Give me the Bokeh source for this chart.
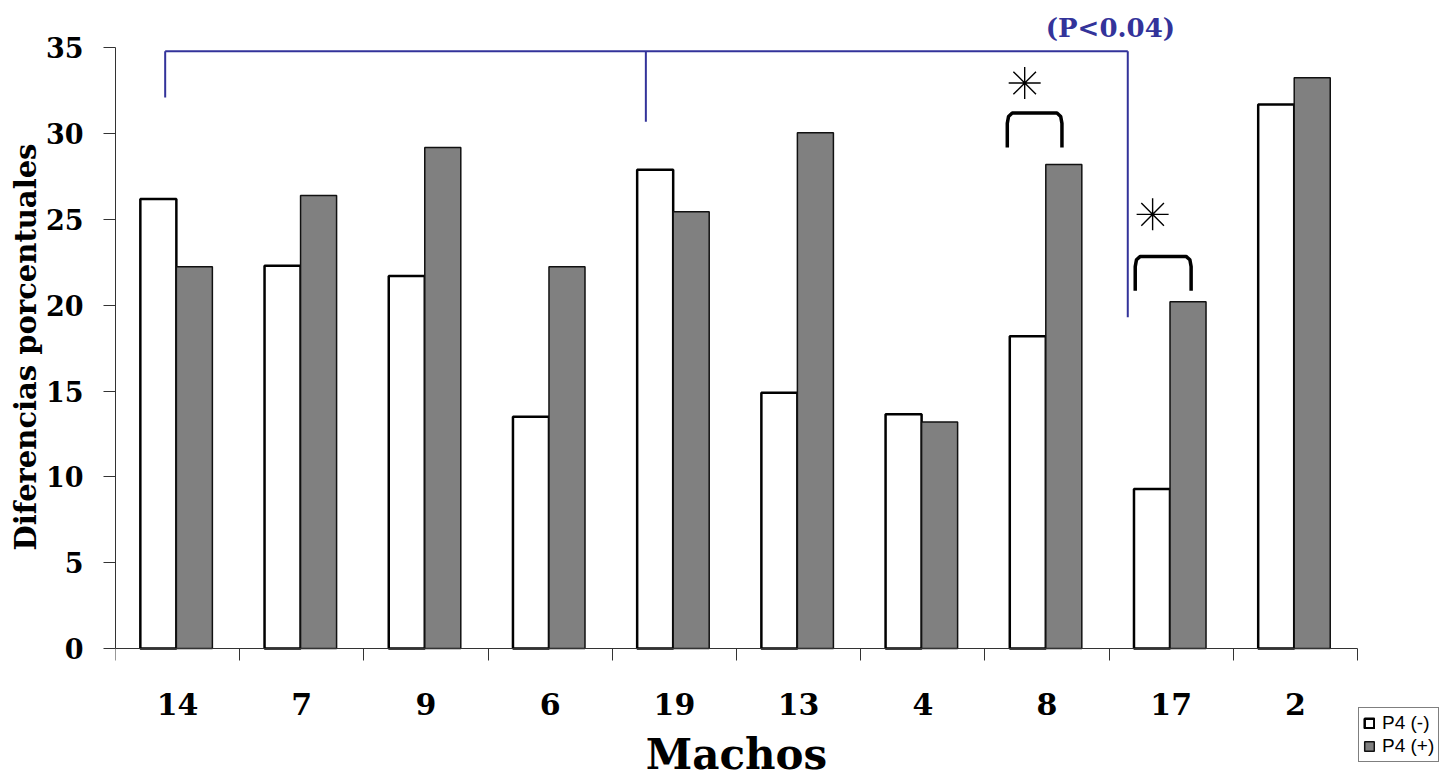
import numpy as np
from bokeh.plotting import figure
from bokeh.models import (ColumnDataSource, FixedTicker, Legend, LegendItem,
                          Range1d, Title)
from bokeh.core.properties import value
from bokeh.embed import file_html
from bokeh.resources import INLINE

# ---------------- data ----------------
machos = ["14", "7", "9", "6", "19", "13", "4", "8", "17", "2"]
p4_neg = [26.2, 22.3, 21.7, 13.5, 27.9, 14.9, 13.65, 18.2, 9.3, 31.7]
p4_pos = [22.25, 26.4, 29.2, 22.25, 25.45, 30.05, 13.2, 28.2, 20.2, 33.25]
y_ticks = [0, 5, 10, 15, 20, 25, 30, 35]

# significance group bracket (blue)
group_x = [0.40, 4.27, 8.15]
group_bottom = [32.1, 30.7, 19.3]
group_top = 34.8
group_text = "(P<0.04)"

# pairwise brackets (black) with asterisks
pair_left = [7.18, 8.21]
pair_right = [7.62, 8.66]
pair_bottom = [29.2, 20.85]
pair_top = [31.2, 22.85]
star_x = [7.32, 8.35]
star_y = [32.95, 25.3]

SERIF = "DejaVu Serif"
BLUE = "#33339A"

n = len(machos)
idx = np.arange(n)
src = ColumnDataSource(dict(
    xneg=idx + 0.345, xpos=idx + 0.635, neg=p4_neg, pos=p4_pos))

# frame spans to the right/bottom edges; the x axis sits at y = 0
p = figure(width=1444, height=777, output_backend="svg", toolbar_location=None,
           x_range=Range1d(0, 10.70), y_range=Range1d(-7.51, 37.0),
           min_border_left=115, min_border_right=0, min_border_top=13,
           min_border_bottom=0)
p.grid.visible = False
p.outline_line_color = None
p.background_fill_color = "white"
p.border_fill_color = "white"

r_neg = p.vbar(x="xneg", top="neg", width=0.29, bottom=0, source=src,
               fill_color="white", line_color="black", line_width=2.5)
r_pos = p.vbar(x="xpos", top="pos", width=0.29, bottom=0, source=src,
               fill_color="#808080", line_color="#111111", line_width=1.5)

# blue group bracket
p.segment(x0=[group_x[0]], y0=[group_top], x1=[group_x[-1]], y1=[group_top],
          line_color=BLUE, line_width=2)
p.segment(x0=group_x, y0=group_bottom, x1=group_x, y1=[group_top] * 3,
          line_color=BLUE, line_width=2)
p.text(x=[8.01], y=[36.17], text=[group_text], text_font=value(SERIF),
       text_font_style="bold", text_font_size="26px", text_color=BLUE,
       text_align="center", text_baseline="middle")

# black pair brackets
xs, ys = [], []
for l, r, b, t in zip(pair_left, pair_right, pair_bottom, pair_top):
    dx = 0.04 * (r - l) / 0.44
    xs.append([l, l, l + 0.01, l + dx, r - dx, r - 0.01, r, r])
    ys.append([b, t - 0.6, t - 0.2, t, t, t - 0.2, t - 0.6, b])
p.multi_line(xs=xs, ys=ys, line_color="black", line_width=3.5,
             line_join="round")
p.scatter(x=star_x, y=star_y, marker="asterisk", size=32,
          line_color="black", line_width=1.4)

# axes
yax = p.yaxis[0]
yax.ticker = FixedTicker(ticks=y_ticks, minor_ticks=[])
yax.bounds = (0, 35)
yax.major_tick_out = 12
yax.major_tick_in = 0
yax.minor_tick_out = 0
yax.axis_line_color = "#333333"
yax.major_tick_line_color = "#333333"
yax.major_label_text_font = SERIF
yax.major_label_text_font_style = "bold"
yax.major_label_text_font_size = "27px"
yax.major_label_text_color = "black"
yax.major_label_standoff = 20

# y-axis title, placed along the 0..35 span of the axis
p.add_layout(Title(text="Diferencias porcentuales", align="left", offset=227,
                   text_font=SERIF, text_font_style="bold",
                   text_font_size="29px", text_color="black", standoff=0),
             "left")

xax = p.xaxis[0]
xax.fixed_location = 0
xax.bounds = (0, 10)
xax.ticker = FixedTicker(ticks=list(idx + 0.5), minor_ticks=list(range(n + 1)))
xax.major_label_overrides = {float(i + 0.5): m for i, m in enumerate(machos)}
xax.major_tick_out = 0
xax.major_tick_in = 0
xax.minor_tick_out = 12
xax.minor_tick_in = 0
xax.axis_line_color = "#333333"
xax.minor_tick_line_color = "#333333"
xax.major_label_text_font = SERIF
xax.major_label_text_font_style = "bold"
xax.major_label_text_font_size = "30px"
xax.major_label_text_color = "black"
xax.major_label_standoff = 32
xax.axis_label = "Machos"
xax.axis_label_text_font = SERIF
xax.axis_label_text_font_style = "bold"
xax.axis_label_text_font_size = "42px"
xax.axis_label_text_color = "black"
xax.axis_label_standoff = 12

legend = Legend(items=[LegendItem(label="P4 (-)", renderers=[r_neg]),
                       LegendItem(label="P4 (+)", renderers=[r_pos])],
                location=(1243, 15), orientation="vertical",
                label_text_font="Liberation Sans", label_text_font_size="19px",
                label_text_color="black",
                label_height=20, glyph_height=12, glyph_width=12,
                label_standoff=7, spacing=1, padding=4, margin=0,
                border_line_color="black", border_line_width=1,
                background_fill_alpha=1.0)
p.add_layout(legend, "center")

open("out.html", "w").write(file_html(p, INLINE))
